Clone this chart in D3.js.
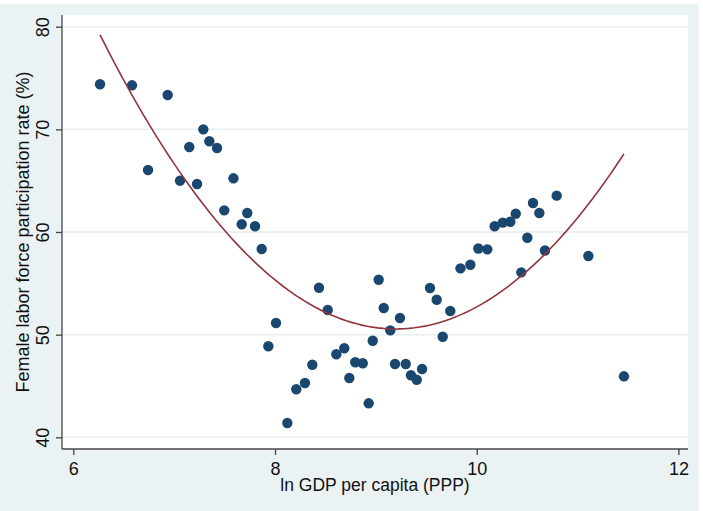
<!DOCTYPE html>
<html>
<head>
<meta charset="utf-8">
<script src="https://cdn.jsdelivr.net/npm/d3@7"></script>
<style>
  body { margin: 0; background: #ffffff; }
  svg text { font-family: "Liberation Sans", Arial, sans-serif; fill: #111; }
</style>
</head>
<body>
<div id="graph"></div>
<script>
//log GDP per capita (PPP), one entry per country
const gdpValues = [
    6.265, 6.582, 6.741, 6.936, 7.058, 7.150, 7.227, 7.289, 7.349, 7.425,
    7.497, 7.588, 7.670, 7.725, 7.802, 7.868, 7.934, 8.010, 8.122, 8.211,
    8.297, 8.370, 8.436, 8.523, 8.608, 8.687, 8.737, 8.796, 8.870, 8.929,
    8.969, 9.028, 9.078, 9.143, 9.190, 9.239, 9.296, 9.348, 9.405, 9.458,
    9.537, 9.603, 9.663, 9.738, 9.839, 9.937, 10.016, 10.105, 10.178, 10.258,
    10.333, 10.387, 10.442, 10.502, 10.558, 10.621, 10.677, 10.793, 11.107, 11.460
];

//female labor force participation rate (%), same order
const flfpValues = [
    74.39, 74.29, 66.04, 73.35, 65.00, 68.28, 64.68, 70.00, 68.84, 68.18,
    62.11, 65.23, 60.75, 61.85, 60.56, 58.34, 48.87, 51.13, 41.39, 44.68,
    45.29, 47.07, 54.57, 52.40, 48.09, 48.67, 45.78, 47.31, 47.21, 43.31,
    49.41, 55.35, 52.60, 50.42, 47.14, 51.62, 47.14, 46.04, 45.61, 46.65,
    54.54, 53.40, 49.80, 52.30, 56.46, 56.81, 58.39, 58.31, 60.56, 60.91,
    61.00, 61.78, 56.07, 59.44, 62.83, 61.85, 58.20, 63.54, 57.66, 45.94
];

//axis ticks
const xTicks = [6, 8, 10, 12];
const yTicks = [40, 50, 60, 70, 80];

//quadratic least squares fit y = b0 + b1*x + b2*x^2
function quadFit(xs, ys){
    let s = [0, 0, 0, 0, 0], t = [0, 0, 0];
    for (let i = 0; i < xs.length; i++) {
        const x = xs[i], y = ys[i];
        let p = 1;
        for (let k = 0; k < 5; k++) { s[k] += p; if (k < 3) t[k] += p * y; p *= x; }
    }
    //solve 3x3 normal equations with cramer's rule
    const m = [[s[0], s[1], s[2]], [s[1], s[2], s[3]], [s[2], s[3], s[4]]];
    function det(a){
        return a[0][0] * (a[1][1] * a[2][2] - a[1][2] * a[2][1])
             - a[0][1] * (a[1][0] * a[2][2] - a[1][2] * a[2][0])
             + a[0][2] * (a[1][0] * a[2][1] - a[1][1] * a[2][0]);
    }
    const d = det(m);
    return [0, 1, 2].map(function(c){
        const mc = m.map(function(row, r){ return row.map(function(v, j){ return j === c ? t[r] : v; }); });
        return det(mc) / d;
    });
}

const width = 703, height = 511;
const plot = { left: 62, right: 688, top: 15, bottom: 449 };

const svg = d3.select("#graph").append("svg")
    .attr("width", width)
    .attr("height", height);

//graph region background
svg.append("rect")
    .attr("x", 0).attr("y", 4)
    .attr("width", 699).attr("height", height - 4)
    .attr("fill", "#eaf2f3");

//plot region
svg.append("rect")
    .attr("x", plot.left).attr("y", plot.top)
    .attr("width", plot.right - plot.left).attr("height", plot.bottom - plot.top)
    .attr("fill", "#ffffff");

//scales
const x = d3.scaleLinear().domain([5.888, 12.095]).range([plot.left, plot.right]);
const y = d3.scaleLinear().domain([38.86, 81.14]).range([plot.bottom, plot.top]);

//gridlines
svg.append("g").selectAll("line")
    .data(yTicks)
    .enter().append("line")
    .attr("x1", plot.left).attr("x2", plot.right)
    .attr("y1", function(d){ return y(d); })
    .attr("y2", function(d){ return y(d); })
    .attr("stroke", "#e6eef1")
    .attr("stroke-width", 1.5);

//axes
const xAxis = svg.append("g")
    .attr("transform", "translate(0," + plot.bottom + ")")
    .call(d3.axisBottom(x).tickValues(xTicks).tickSize(6).tickPadding(7).tickFormat(d3.format("d")));

const yAxis = svg.append("g")
    .attr("transform", "translate(" + plot.left + ",0)")
    .call(d3.axisLeft(y).tickValues(yTicks).tickSize(6).tickFormat(d3.format("d")));

xAxis.select(".domain").attr("d", "M" + plot.left + ",0H" + plot.right).attr("stroke", "#444").attr("stroke-width", 1.3);
yAxis.select(".domain").attr("d", "M0," + plot.top + "V" + plot.bottom).attr("stroke", "#444").attr("stroke-width", 1.3);
svg.selectAll(".tick line").attr("stroke", "#444").attr("stroke-width", 1.3);

xAxis.selectAll("text")
    .style("font-size", "18px")
    .attr("fill", "#111");

//rotated y tick labels
yAxis.selectAll(".tick text")
    .style("font-size", "18px")
    .attr("fill", "#111")
    .attr("transform", "rotate(-90)")
    .attr("x", 0)
    .attr("y", -13)
    .attr("dy", 0)
    .attr("text-anchor", "middle");

//axis titles
svg.append("text")
    .attr("x", (plot.left + plot.right) / 2)
    .attr("y", 491)
    .attr("text-anchor", "middle")
    .style("font-size", "17.5px")
    .text("ln GDP per capita (PPP)");

svg.append("text")
    .attr("transform", "translate(29," + ((plot.top + plot.bottom) / 2) + ") rotate(-90)")
    .attr("text-anchor", "middle")
    .style("font-size", "18px")
    .text("Female labor force participation rate (%)");

//points
const points = gdpValues.map(function(g, i){ return { gdp: g, flfp: flfpValues[i] }; });

svg.append("g").selectAll("circle")
    .data(points)
    .enter().append("circle")
    .attr("cx", function(d){ return x(d.gdp); })
    .attr("cy", function(d){ return y(d.flfp); })
    .attr("r", 5.2)
    .attr("fill", "#1a476f");

//quadratic fit line over the data range
const coef = quadFit(gdpValues, flfpValues);
const xMin = d3.min(gdpValues), xMax = d3.max(gdpValues);
const fitX = d3.range(0, 101).map(function(i){ return xMin + (xMax - xMin) * i / 100; });

const fitLine = d3.line()
    .x(function(d){ return x(d); })
    .y(function(d){ return y(coef[0] + coef[1] * d + coef[2] * d * d); });

svg.append("path")
    .datum(fitX)
    .attr("d", fitLine)
    .attr("fill", "none")
    .attr("stroke", "#90353b")
    .attr("stroke-width", 1.6);
</script>
</body>
</html>
